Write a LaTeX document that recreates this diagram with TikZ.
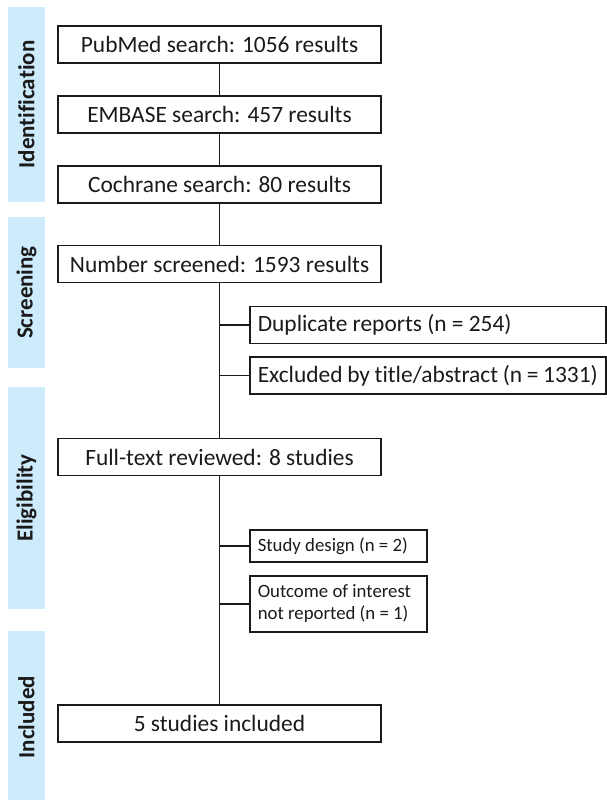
\documentclass[tikz,border=0pt]{standalone}
\usepackage{fontspec}
\setmainfont{Carlito}[Ligatures=NoCommon]
\usetikzlibrary{positioning}
\definecolor{barblue}{RGB}{206,235,252}
\definecolor{ink}{RGB}{26,26,26}
\tikzset{mainbox/.style={draw=ink, line width=1.6pt, text=ink, inner sep=0pt,
  minimum width=323pt, minimum height=37pt, font=\fontsize{23.4}{27}\selectfont}}
\tikzset{sidebox/.style={draw=ink, line width=1.6pt, text=ink, anchor=west,
  inner xsep=8pt, inner ysep=0pt, align=flush left, minimum height=37pt,
  font=\fontsize{23.4}{27}\selectfont}}
\tikzset{smallbox/.style={draw=ink, line width=1.6pt, text=ink, anchor=west,
  inner xsep=8pt, inner ysep=0pt, align=flush left, text width=161pt,
  font=\fontsize{18.8}{22}\selectfont}}
\tikzset{phasebar/.style={fill=barblue, rotate=90, inner sep=0pt, text=ink,
  minimum height=37pt, font=\fontsize{23}{27}\selectfont\bfseries}}
\tikzset{link/.style={draw=ink, line width=1.6pt}}

\begin{document}
\begin{tikzpicture}[x=1pt, y=-1pt]
      \useasboundingbox (0, 0) rectangle (607, 800);
      \clip (0, 0) rectangle (607, 800);

      \node [phasebar, minimum width=195pt] (ident) at (26.5, 104.5) {Identification};
      \node [phasebar, minimum width=151pt] (screening) at (26.5, 292.5) {Screening};
      \node [phasebar, minimum width=222pt] (eligib) at (26.5, 498) {Eligibility};
      \node [phasebar, minimum width=172pt] (incl) at (26.5, 717) {Included};

      \node [mainbox] (pubmed) at (219.5, 44.5) {PubMed search: 1056 results};
      \node [mainbox] (embase) at (219.5, 114.5) {EMBASE search: 457 results};
      \node [mainbox] (cochrane) at (219.5, 184.5) {Cochrane search: 80 results};
      \node [mainbox] (screened) at (219.5, 264) {Number screened: 1593 results};
      \node [mainbox] (fulltext) at (219.5, 457) {Full-text reviewed: 8 studies};
      \node [mainbox] (included) at (219.5, 723.5) {5 studies included};

      \node [sidebox, text width=340pt] (dupl) at (249, 325) {Duplicate reports (n = 254)};
      \node [sidebox, text width=340pt] (titleabs) at (249, 375.5) {Excluded by title/abstract (n = 1331)};

      \node [smallbox, minimum height=32pt] (design) at (249, 546) {Study design (n = 2)};
      \node [smallbox, minimum height=56pt] (outcome) at (249, 604) {Outcome of interest\\not reported (n = 1)};

      \draw [link] (pubmed) -- (embase);
      \draw [link] (embase) -- (cochrane);
      \draw [link] (cochrane) -- (screened);
      \draw [link] (screened) -- (fulltext);
      \draw [link] (fulltext) -- (included);

      \draw [link] (dupl.west) -- (dupl.west -| screened.south);
      \draw [link] (titleabs.west) -- (titleabs.west -| screened.south);
      \draw [link] (design.west) -- (design.west -| fulltext.south);
      \draw [link] (outcome.west) -- (outcome.west -| fulltext.south);

    \end{tikzpicture}
\end{document}
